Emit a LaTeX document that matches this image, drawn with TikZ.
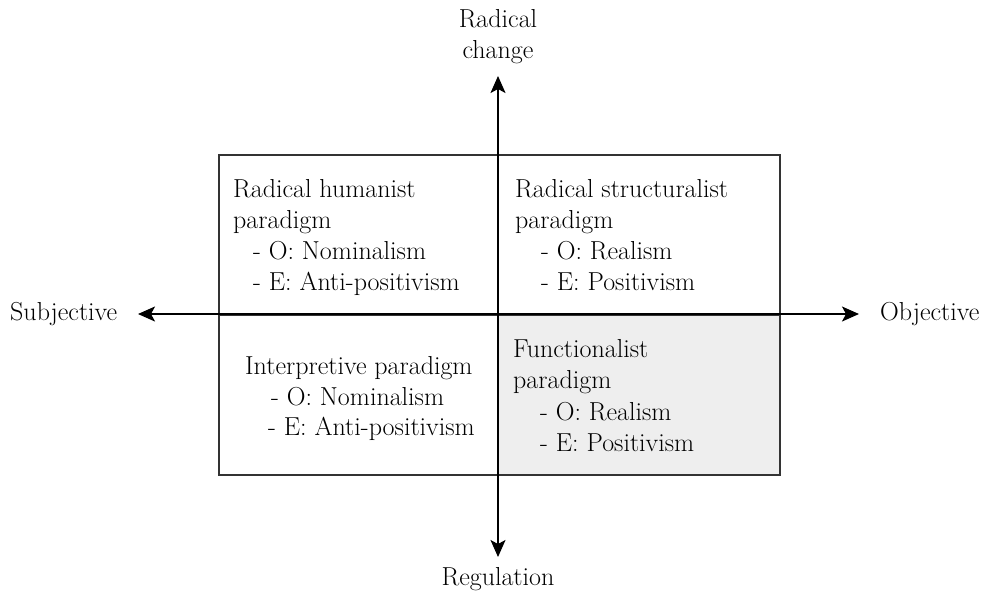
\documentclass[tikz,border=0pt]{standalone}
\usepackage{xcolor}
\usetikzlibrary{arrows.meta}
\definecolor{edgegray}{HTML}{333333}
\definecolor{quadgray}{HTML}{EEEEEE}

\tikzset{
  axis/.style={line width=1.6pt,{Stealth[length=17pt,width=15pt,inset=4pt]}-{Stealth[length=17pt,width=15pt,inset=4pt]}},
  txt/.style={anchor=base west,inner sep=0pt},
  lbl/.style={anchor=base,inner sep=0pt}
}

\begin{document}
\begin{tikzpicture}[x=1pt,y=-1pt,font=\fontsize{26}{31}\selectfont]
        \useasboundingbox (0,0) rectangle (982,592);
        % quadrants
        \fill[quadgray] (498,315) rectangle (780,475);
        \draw[edgegray,line width=1.6pt] (219,155) rectangle (780,475);
        \draw[edgegray,line width=1.6pt] (219,315) -- (780,315);
        % axes
        \coordinate (top) at (498,76); \coordinate (bot) at (498,557);
        \coordinate (lft) at (138,314); \coordinate (rgt) at (859,314);
        \draw[axis] (bot) -- (top);
        \draw[axis] (lft) -- (rgt);
        \node[lbl] (rad) at (498,27) {Radical};
        \node[lbl] (chg) at (498,58) {change};
        \node[lbl] (reg) at (498,585) {Regulation};
        \node[txt] (subj) at (10,320) {Subjective};
        \node[txt] (obj) at (880,320) {Objective};
        % radical humanist
        \node[txt] (rh1) at (233,197) {Radical humanist};
        \node[txt] (rh2) at (233,228) {paradigm};
        \node[txt] (rh3) at (253,259) {- O: Nominalism};
        \node[txt] (rh4) at (253,290) {- E: Anti-positivism};
        % radical structuralist
        \node[txt] (rs1) at (515,197) {Radical structuralist};
        \node[txt] (rs2) at (515,228) {paradigm};
        \node[txt] (rs3) at (541,259) {- O: Realism};
        \node[txt] (rs4) at (541,290) {- E: Positivism};
        % interpretive
        \node[txt] (ip1) at (245,374) {Interpretive paradigm};
        \node[txt] (ip2) at (271,405) {- O: Nominalism};
        \node[txt] (ip3) at (268,435) {- E: Anti-positivism};
        % functionalist
        \node[txt] (fn1) at (513,357) {Functionalist};
        \node[txt] (fn2) at (513,388) {paradigm};
        \node[txt] (fn3) at (540,420) {- O: Realism};
        \node[txt] (fn4) at (540,451) {- E: Positivism};
      \end{tikzpicture}
\end{document}
